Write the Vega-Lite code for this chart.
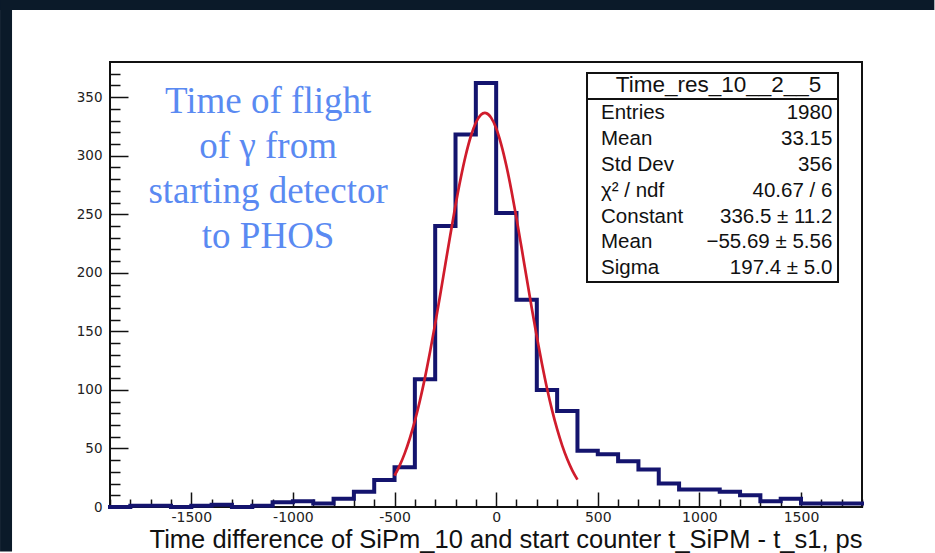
{
  "$schema": "https://vega.github.io/schema/vega-lite/v6.json",
  "width": 752,
  "height": 445,
  "autosize": "none",
  "padding": {"left": 110, "top": 62, "right": 73, "bottom": 46},
  "background": "white",
  "config": {"view": {"stroke": "#111111", "strokeWidth": 2}, "font": "Liberation Sans"},
  "datasets": {
    "hist": [
      {"lo": -1900, "hi": -1800, "n": 0},
      {"lo": -1800, "hi": -1700, "n": 1},
      {"lo": -1700, "hi": -1600, "n": 1},
      {"lo": -1600, "hi": -1500, "n": 0},
      {"lo": -1500, "hi": -1400, "n": 1},
      {"lo": -1400, "hi": -1300, "n": 2},
      {"lo": -1300, "hi": -1200, "n": 0},
      {"lo": -1200, "hi": -1100, "n": 1},
      {"lo": -1100, "hi": -1000, "n": 4},
      {"lo": -1000, "hi": -900, "n": 5},
      {"lo": -900, "hi": -800, "n": 3},
      {"lo": -800, "hi": -700, "n": 7},
      {"lo": -700, "hi": -600, "n": 13},
      {"lo": -600, "hi": -500, "n": 23},
      {"lo": -500, "hi": -400, "n": 34},
      {"lo": -400, "hi": -300, "n": 109},
      {"lo": -300, "hi": -200, "n": 240},
      {"lo": -200, "hi": -100, "n": 318},
      {"lo": -100, "hi": 0, "n": 362},
      {"lo": 0, "hi": 100, "n": 251},
      {"lo": 100, "hi": 200, "n": 177},
      {"lo": 200, "hi": 300, "n": 100},
      {"lo": 300, "hi": 400, "n": 82},
      {"lo": 400, "hi": 500, "n": 48},
      {"lo": 500, "hi": 600, "n": 45},
      {"lo": 600, "hi": 700, "n": 39},
      {"lo": 700, "hi": 800, "n": 32},
      {"lo": 800, "hi": 900, "n": 20},
      {"lo": 900, "hi": 1000, "n": 15},
      {"lo": 1000, "hi": 1100, "n": 15},
      {"lo": 1100, "hi": 1200, "n": 13},
      {"lo": 1200, "hi": 1300, "n": 10},
      {"lo": 1300, "hi": 1400, "n": 5},
      {"lo": 1400, "hi": 1500, "n": 7},
      {"lo": 1500, "hi": 1600, "n": 3},
      {"lo": 1600, "hi": 1700, "n": 3},
      {"lo": 1700, "hi": 1800, "n": 3}
    ],
    "fit": [
      {"t": -500, "f": 26.7}, {"t": -475, "f": 35.3}, {"t": -450, "f": 45.8}, {"t": -425, "f": 58.5},
      {"t": -400, "f": 73.5}, {"t": -375, "f": 91.0}, {"t": -350, "f": 110.7}, {"t": -325, "f": 132.7},
      {"t": -300, "f": 156.5}, {"t": -275, "f": 181.5}, {"t": -250, "f": 207.3}, {"t": -225, "f": 232.9},
      {"t": -200, "f": 257.6}, {"t": -175, "f": 280.3}, {"t": -150, "f": 300.2}, {"t": -125, "f": 316.4},
      {"t": -100, "f": 328.1}, {"t": -75, "f": 334.9}, {"t": -55.7, "f": 336.5}, {"t": -50, "f": 336.4},
      {"t": -25, "f": 332.5}, {"t": 0, "f": 323.4}, {"t": 25, "f": 309.5}, {"t": 50, "f": 291.6},
      {"t": 75, "f": 270.3}, {"t": 100, "f": 246.6}, {"t": 125, "f": 221.3}, {"t": 150, "f": 195.5},
      {"t": 175, "f": 170.0}, {"t": 200, "f": 145.4}, {"t": 225, "f": 122.5}, {"t": 250, "f": 101.4},
      {"t": 275, "f": 82.7}, {"t": 300, "f": 66.4}, {"t": 325, "f": 52.4}, {"t": 350, "f": 40.7},
      {"t": 375, "f": 31.1}, {"t": 400, "f": 23.4}
    ],
    "stats": [
      {"i": 1, "label": "Entries", "val": "1980"},
      {"i": 2, "label": "Mean", "val": "33.15"},
      {"i": 3, "label": "Std Dev", "val": "356"},
      {"i": 4, "label": "χ² / ndf", "val": "40.67 / 6"},
      {"i": 5, "label": "Constant", "val": "336.5 ± 11.2"},
      {"i": 6, "label": "Mean", "val": "−55.69 ± 5.56"},
      {"i": 7, "label": "Sigma", "val": "197.4 ± 5.0"}
    ]
  },
  "layer": [
    {
      "layer": [
        {
          "data": {"name": "hist"},
          "transform": [{"fold": ["lo", "hi"], "as": ["edge", "t"]}],
          "mark": {"type": "line", "color": "#14146e", "strokeWidth": 4, "strokeJoin": "miter", "strokeCap": "square"},
          "encoding": {
            "x": {
              "field": "t", "type": "quantitative",
              "scale": {"domain": [-1900, 1800], "nice": false, "zero": false},
              "axis": {
                "values": [-1900,-1800,-1700,-1600,-1500,-1400,-1300,-1200,-1100,-1000,-900,-800,-700,-600,-500,-400,-300,-200,-100,0,100,200,300,400,500,600,700,800,900,1000,1100,1200,1300,1400,1500,1600,1700,1800],
                "tickCount": 200,
                "labelExpr": "datum.value % 500 === 0 ? '' + datum.value : ''",
                "tickSize": {"condition": {"test": "datum.value % 500 === 0", "value": -15}, "value": -8},
                "tickColor": "#111111", "tickWidth": 1.5,
                "domain": false, "grid": false,
                "labelFont": "DejaVu Sans", "labelFontSize": 14, "labelColor": "#222222",
                "labelPadding": 18, "labelOverlap": false, "labelFlush": false, "labelBound": false,
                "title": "Time difference of SiPm_10 and start counter t_SiPM - t_s1, ps",
                "titleFont": "Liberation Sans", "titleFontSize": 25.5, "titleFontWeight": "normal",
                "titleColor": "#111111", "titleAnchor": "end", "titlePadding": -4
              }
            },
            "y": {
              "field": "n", "type": "quantitative",
              "scale": {"domain": [0, 380], "nice": false, "zero": false},
              "axis": {
                "values": [0,10,20,30,40,50,60,70,80,90,100,110,120,130,140,150,160,170,180,190,200,210,220,230,240,250,260,270,280,290,300,310,320,330,340,350,360,370],
                "tickCount": 200,
                "labelExpr": "datum.value % 50 === 0 ? '' + datum.value : ''",
                "tickSize": {"condition": {"test": "datum.value % 50 === 0", "value": -18}, "value": -10},
                "tickColor": "#111111", "tickWidth": 1.5,
                "domain": false, "grid": false,
                "labelFont": "DejaVu Sans", "labelFontSize": 13.5, "labelColor": "#222222",
                "labelPadding": 26, "labelOverlap": false, "labelFlush": false, "labelBound": false,
                "title": null
              }
            },
            "order": [{"field": "t", "type": "quantitative"}, {"field": "edge", "type": "nominal"}]
          }
        },
        {
          "data": {"name": "fit"},
          "mark": {"type": "line", "color": "#d01c2c", "strokeWidth": 2.7, "interpolate": "monotone"},
          "encoding": {
            "x": {"field": "t", "type": "quantitative"},
            "y": {"field": "f", "type": "quantitative"}
          }
        },
        {
          "data": {"values": [{"note": "Time of flight\nof γ from\nstarting detector\nto PHOS"}]},
          "mark": {"type": "text", "font": "Liberation Serif", "fontSize": 37, "color": "#5a8af2", "lineBreak": "\n", "lineHeight": 45, "align": "center", "baseline": "middle"},
          "encoding": {
            "text": {"field": "note"},
            "x": {"datum": -1122, "type": "quantitative"},
            "y": {"datum": 346, "type": "quantitative"}
          }
        },
        {
          "data": {"values": [{"part": "left edge"}]},
          "mark": {"type": "rect", "fill": "#0b1a29"},
          "encoding": {
            "x": {"datum": -2441, "type": "quantitative"},
            "x2": {"datum": -2382},
            "y": {"datum": 432.9, "type": "quantitative"},
            "y2": {"datum": -38.0}
          }
        },
        {
          "data": {"values": [{"part": "top edge"}]},
          "mark": {"type": "rect", "fill": "#0b1a29"},
          "encoding": {
            "x": {"datum": -2441, "type": "quantitative"},
            "x2": {"datum": 2156},
            "y": {"datum": 432.9, "type": "quantitative"},
            "y2": {"datum": 424.4}
          }
        }
      ]
    },
    {
      "layer": [
        {
          "data": {"values": [{"part": "box"}]},
          "mark": {"type": "rect", "fill": "white", "stroke": "#111111", "strokeWidth": 2},
          "encoding": {
            "x": {"datum": 447, "type": "quantitative"},
            "x2": {"datum": 1682},
            "y": {"datum": -0.54, "type": "quantitative", "scale": {"domain": [-0.965, 16.215], "reverse": true, "nice": false, "zero": false}, "axis": null},
            "y2": {"datum": 7.53}
          }
        },
        {
          "data": {"values": [{"part": "divider"}]},
          "mark": {"type": "rule", "stroke": "#111111", "strokeWidth": 2},
          "encoding": {
            "x": {"datum": 447, "type": "quantitative"},
            "x2": {"datum": 1682},
            "y": {"datum": 0.4635, "type": "quantitative"}
          }
        },
        {
          "data": {"values": [{"i": 0, "title": "Time_res_10__2__5"}]},
          "mark": {"type": "text", "fontSize": 22.5, "color": "#111111", "align": "center", "baseline": "middle", "dy": -2},
          "encoding": {
            "text": {"field": "title"},
            "x": {"datum": 1094, "type": "quantitative"},
            "y": {"field": "i", "type": "quantitative"}
          }
        },
        {
          "data": {"name": "stats"},
          "mark": {"type": "text", "fontSize": 20.5, "color": "#111111", "align": "left", "baseline": "middle"},
          "encoding": {
            "text": {"field": "label"},
            "x": {"datum": 516, "type": "quantitative"},
            "y": {"field": "i", "type": "quantitative"}
          }
        },
        {
          "data": {"name": "stats"},
          "mark": {"type": "text", "fontSize": 20.5, "color": "#111111", "align": "right", "baseline": "middle"},
          "encoding": {
            "text": {"field": "val"},
            "x": {"datum": 1654, "type": "quantitative"},
            "y": {"field": "i", "type": "quantitative"}
          }
        }
      ]
    }
  ],
  "resolve": {"scale": {"y": "independent"}}
}
